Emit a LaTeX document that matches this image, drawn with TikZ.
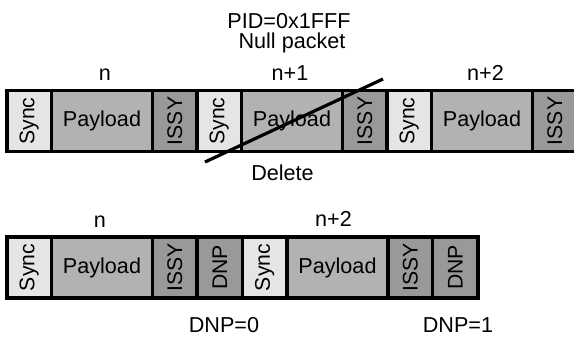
\documentclass[tikz,border=0pt]{standalone}
\usepackage{fontspec}
\setmainfont{Liberation Sans}
\usepackage{graphicx}
\usetikzlibrary{positioning}

\tikzset{
    cell/.style={draw=black, line width=1.6pt, minimum height=30.5pt, inner sep=0pt, outer sep=0pt, anchor=west, font=\fontsize{10.8}{13}\selectfont},
    syncbox/.style={cell, fill=gray!20, minimum width=22.25pt},
    paybox/.style={cell, fill=gray!60, minimum width=50.5pt},
    issybox/.style={cell, fill=gray!80, minimum width=22.25pt},
    dnpbox/.style={cell, fill=gray!80, minimum width=22.75pt},
    lbl/.style={anchor=base, inner sep=0pt, font=\fontsize{10.8}{13}\selectfont},
}
\newcommand{\vtext}[1]{\rotatebox{90}{\fontsize{10.6}{12}\selectfont #1}}

\begin{document}
\begin{tikzpicture}[x=0.5pt, y=-0.5pt]
    \useasboundingbox (0,0) rectangle (574,338);
    \clip (0,0) rectangle (574,338);

    % Top row: three packets, the middle one is a null packet
    \foreach \k/\x in {1/7, 2/197, 3/387} {
        \node[syncbox] (s\k) at (\x,121) {\vtext{Sync}};
        \node[paybox, right=0pt of s\k] (p\k) {Payload};
        \node[issybox, right=0pt of p\k] (i\k) {\vtext{ISSY}};
    }
    \node[lbl] (n1) at (105,80) {n};
    \node[lbl] (n2) at (290,80) {n+1};
    \node[lbl] (n3) at (485.5,80) {n+2};
    \node[lbl] (pid) at (289,28) {PID=0x1FFF};
    \node[lbl] (null) at (292,48) {Null packet};

    % Strike through the null packet
    \coordinate (cutA) at (205,162);
    \coordinate (cutB) at (383,79);
    \draw[line width=1.6pt] (cutA) -- (cutB);
    \node[lbl] (del) at (282.5,180) {Delete};

    % Bottom row: remaining packets with DNP field
    \foreach \k/\x in {1/7, 2/242.5} {
        \node[syncbox] (bs\k) at (\x,267.5) {\vtext{Sync}};
        \node[paybox, right=0pt of bs\k] (bp\k) {Payload};
        \node[issybox, right=0pt of bp\k] (bi\k) {\vtext{ISSY}};
        \node[dnpbox, right=0pt of bi\k] (bd\k) {\vtext{DNP}};
    }
    \node[lbl] (m1) at (100,227) {n};
    \node[lbl] (m2) at (333.5,226) {n+2};
    \node[lbl] (dnp0) at (224,332) {DNP=0};
    \node[lbl] (dnp1) at (458,332) {DNP=1};
\end{tikzpicture}
\end{document}
